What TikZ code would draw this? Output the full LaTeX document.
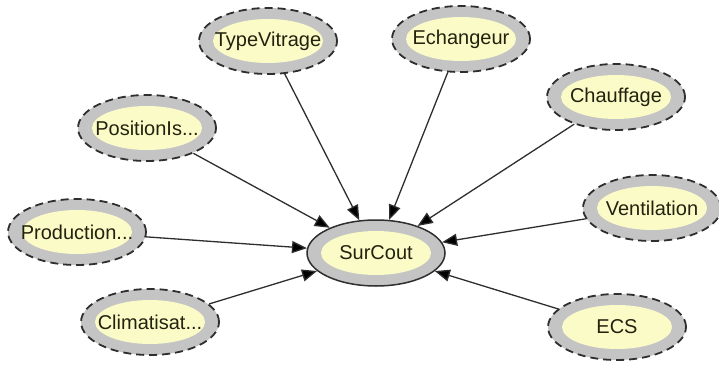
\documentclass[tikz,border=0pt]{standalone}
\usepackage{fontspec}
\setmainfont{Liberation Sans}
\usetikzlibrary{shapes.geometric,arrows.meta}
\definecolor{ringgray}{HTML}{C4C4C4}
\definecolor{innery}{HTML}{FBFBC8}
\definecolor{edgec}{HTML}{2E2E2E}
\definecolor{txtc}{HTML}{22220E}
\tikzset{
  var/.style={ellipse, minimum width=138pt, minimum height=66pt, inner xsep=-22pt, inner ysep=0pt,
    fill=ringgray, draw=edgec, line width=1.8pt, dash pattern=on 8pt off 5pt,
    font=\fontsize{20}{22}\selectfont, text=txtc,
    path picture={\fill[innery] (path picture bounding box.center) ellipse (55pt and 22pt);}},
  target/.style={var, solid, line width=1.5pt},
  link/.style={draw=edgec, line width=1.3pt, -{Triangle[length=15pt,width=12pt,fill=black]}}
}
\begin{document}
\begin{tikzpicture}[x=1pt,y=-1pt]
\useasboundingbox (0,0) rectangle (719,372);
\node[target] (sur) at (376,253) {SurCout};
\node[var] (tv) at (268,41) {TypeVitrage};
\node[var] (ech) at (461,39) {Echangeur};
\node[var] (chf) at (616,97) {Chauffage};
\node[var] (pos) at (147,128) {PositionIs...};
\node[var] (prod) at (77,232) {Production...};
\node[var] (clim) at (150,322) {Climatisat...};
\node[var] (vent) at (652,208) {Ventilation};
\node[var] (ecs) at (617,327) {ECS};
\foreach \s in {tv,ech,chf,pos,prod,clim,vent,ecs}
  \draw[link] (\s) -- (sur);
\end{tikzpicture}
\end{document}
